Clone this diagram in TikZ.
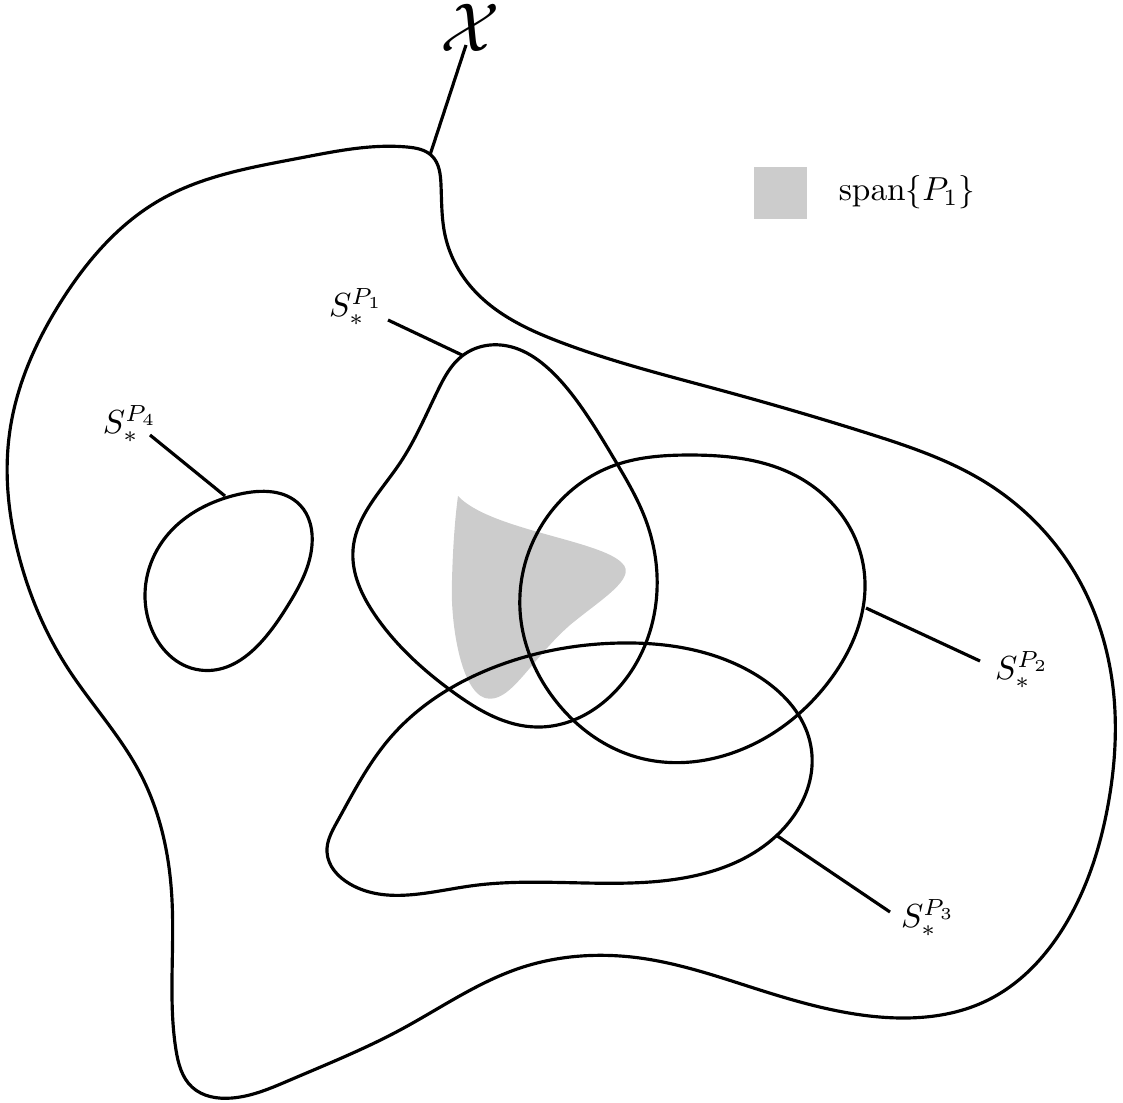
\documentclass[tikz,border=0pt]{standalone}
\usetikzlibrary{hobby}
\begin{document}
\begin{tikzpicture}[x=0.3pt,y=-0.3pt,
  curve/.style={line width=0.95pt, line join=round, use Hobby shortcut, closed=true},
  leader/.style={line width=0.95pt}]
\useasboundingbox (0,0) rectangle (1123,1102);
% shaded span region
\fill[black!20] (458,496) .. controls (490,530) and (600,540) .. (622,563)
  .. controls (638,578) and (600,600) .. (570,625)
  .. controls (530,660) and (510,705) .. (485,698)
  .. controls (460,690) and (450,620) .. (452,580)
  .. controls (453,540) and (456,510) .. (458,496) -- cycle;
% outer set X
\draw[curve] (407,147) .. (432,156) .. (441,185) .. (445,235) .. (472,288)
 .. (560,342) .. (720,390) .. (870,434) .. (985,482) .. (1070,565)
 .. (1112,680) .. (1108,805) .. (1068,920) .. (988,1000) .. (880,1017)
 .. (760,990) .. (640,958) .. (520,968) .. (400,1030) .. (290,1080)
 .. (232,1098) .. (192,1087) .. (176,1050) .. (172,980) .. (172,900)
 .. (163,835) .. (140,773) .. (67,667) .. (20,560) .. (10,430) .. (62,300)
 .. (160,200) .. (300,158);
\coordinate (xa) at (430,155);
\node[inner sep=0pt] (xl) at (470,28) {\huge$\mathcal{X}$};
\coordinate (xb) at (466,45);
\draw[leader] (xa) -- (xb);
% S1
\draw[curve] (490,345) .. (518,349) .. (550,370) .. (582,408) .. (616,462)
 .. (645,518) .. (657,575) .. (625,680) .. (537,727) .. (453,692)
 .. (375,615) .. (353,550) .. (400,463) .. (438,390) .. (462,356);
\coordinate (s1a) at (462,355);
\coordinate (s1b) at (388,320);
\node (s1l) at (356,307) {$S_*^{P_1}$};
\draw[leader] (s1a) -- (s1b);
% S2
\draw[curve] (690,455) .. (800,478) .. (864,570) .. (830,680) .. (735,752)
 .. (640,758) .. (555,700) .. (520,610) .. (545,520) .. (610,467);
\coordinate (s2a) at (866,608);
\coordinate (s2b) at (980,661);
\node (s2l) at (1022,670) {$S_*^{P_2}$};
\draw[leader] (s2a) -- (s2b);
% S3
\draw[curve] (337,822) .. (390,738) .. (500,665) .. (620,643) .. (753,673)
 .. (811,747) .. (775,837) .. (650,882) .. (470,886) .. (350,884) .. (327,852);
\coordinate (s3a) at (776,835);
\coordinate (s3b) at (890,912);
\node (s3l) at (928,918) {$S_*^{P_3}$};
\draw[leader] (s3a) -- (s3b);
% S4
\draw[curve] (240,494) .. (300,505) .. (312,545) .. (285,610) .. (200,670)
 .. (150,625) .. (160,545);
\coordinate (s4a) at (225,496);
\coordinate (s4b) at (150,435);
\node (s4l) at (130,424) {$S_*^{P_4}$};
\draw[leader] (s4a) -- (s4b);
% legend
\fill[black!20] (754,167) rectangle (807,219);
\node (leg) at (907,192) {$\mathrm{span}\{P_1\}$};
\end{tikzpicture}
\end{document}
